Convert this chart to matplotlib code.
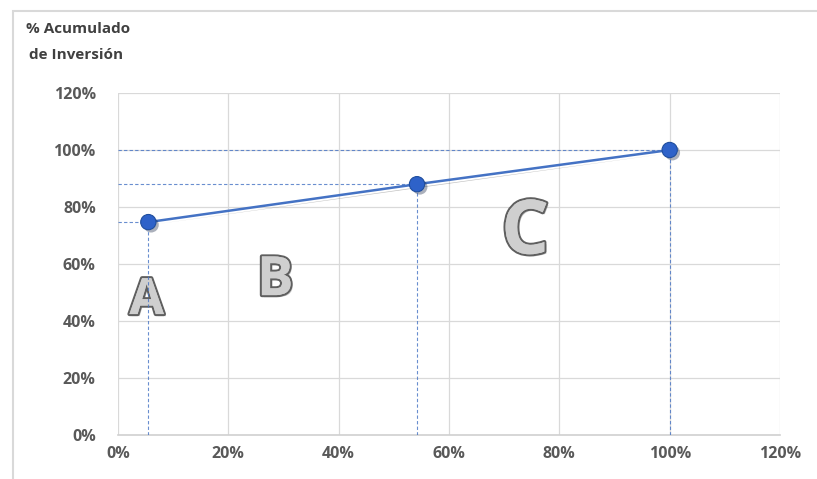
import matplotlib.pyplot as plt
import matplotlib.patheffects as pe
from matplotlib.patches import Rectangle
from matplotlib.ticker import PercentFormatter

# Curva ABC: % acumulado de inversión frente a % acumulado de artículos
pct_articulos = [5.5, 54.2, 100]
pct_inversion = [74.7, 88.0, 100]

zonas = ['A', 'B', 'C']
zona_x = [5.2, 28.5, 73.8]
zona_y = [47, 54, 70.5]
zona_size = [36, 39, 54]

ticks = [0, 20, 40, 60, 80, 100, 120]

gris_txt = '#595959'
azul = '#4472c4'

fig = plt.figure(figsize=(8.17, 4.79), dpi=100)
fig.patch.set_facecolor('white')

# marco del gráfico
fig.add_artist(Rectangle((13 / 817, -0.05), 1.0, 1 - 11 / 479 + 0.05,
                         transform=fig.transFigure, fill=False,
                         edgecolor='#d9d9d9', linewidth=1.5))

ax = fig.add_axes([118 / 817, 44 / 479, (780 - 118) / 817, (435 - 93) / 479])
ax.set_xlim(0, 120)
ax.set_ylim(0, 120)
ax.set_xticks(ticks)
ax.set_yticks(ticks)
ax.xaxis.set_major_formatter(PercentFormatter(decimals=0))
ax.yaxis.set_major_formatter(PercentFormatter(decimals=0))
ax.grid(True, color='#d9d9d9', linewidth=0.9)
ax.set_axisbelow(True)
for s in ['top', 'right', 'left']:
    ax.spines[s].set_visible(False)
ax.spines['bottom'].set_color('#d0d0d0')
ax.spines['bottom'].set_linewidth(1.2)
ax.tick_params(length=0, labelcolor=gris_txt, labelsize=11.5, pad=8)
ax.tick_params(axis='y', pad=16)
for lab in ax.get_xticklabels() + ax.get_yticklabels():
    lab.set_fontfamily('Open Sans')
    lab.set_fontweight('bold')

# letras de cada zona, detrás de las líneas
for z, x, y, s in zip(zonas, zona_x, zona_y, zona_size):
    ax.text(x, y, z, fontsize=s, fontfamily='Open Sans', fontweight='bold',
            color='#cfcfcf', ha='center', va='center', zorder=1,
            path_effects=[pe.SimplePatchShadow(offset=(1.5, -1.5), alpha=0.3),
                          pe.withStroke(linewidth=3, foreground='#5f5f5f'),
                          pe.Normal()])

# líneas guía punteadas hacia los ejes
for x, y in zip(pct_articulos, pct_inversion):
    ax.plot([0, x], [y, y], ls=(0, (3, 2)), color=azul, lw=0.8, alpha=0.8,
            zorder=3)
    ax.plot([x, x], [0, y], ls=(0, (3, 2)), color=azul, lw=0.8, alpha=0.8,
            zorder=3)

ax.plot(pct_articulos, pct_inversion, color=azul, lw=1.8,
        marker='o', markersize=11, markerfacecolor='#2e62c9',
        markeredgecolor='#1f4e9e', markeredgewidth=0.8,
        path_effects=[pe.SimplePatchShadow(offset=(2, -2), alpha=0.35),
                      pe.Normal()], zorder=5)

fig.text(26 / 817, 1 - 29 / 479, '% Acumulado', fontsize=11,
         fontfamily='Open Sans', fontweight='bold', color='#404040',
         va='center')
fig.text(29 / 817, 1 - 55 / 479, 'de Inversión', fontsize=11,
         fontfamily='Open Sans', fontweight='bold', color='#404040',
         va='center')

fig.savefig('out.png', dpi=100)
